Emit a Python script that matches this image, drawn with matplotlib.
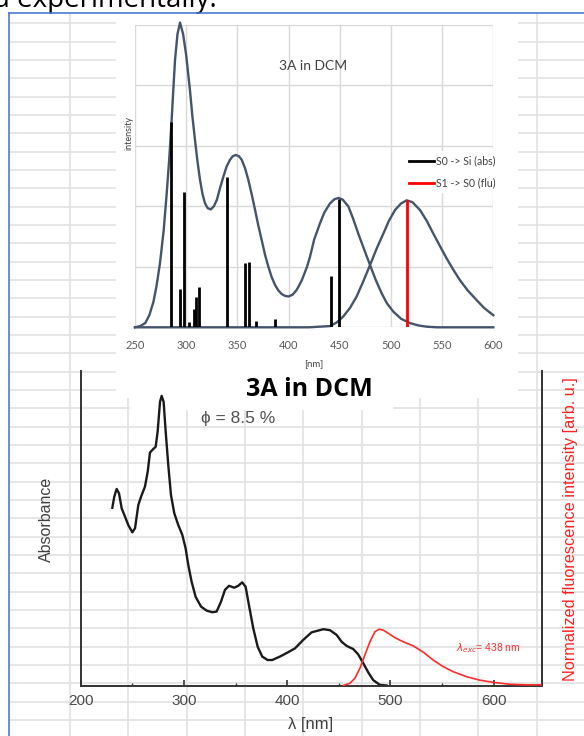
import numpy as np
import matplotlib
matplotlib.use('Agg')
import matplotlib.pyplot as plt
from matplotlib.patches import Rectangle

W, H = 584, 736

# ---- top chart: calculated spectrum (3A in DCM) ----
calc_abs_nm = [250, 255, 260, 264, 268, 271, 274.4, 278, 281, 283.5, 285.8, 287.5, 289.1,
               291.5, 294, 297, 300, 303.7, 306, 308.6, 311, 313.5, 316, 318.4, 321, 324,
               327, 330, 333, 336.3, 339.5, 342.8, 345.5, 348.4, 351.5, 354.3, 357.5, 360.7,
               364, 367.3, 370.5, 373.8, 377, 380.3, 383.5, 386.8, 390, 393.3, 396.5, 400,
               404, 408, 413, 418, 421, 425, 430.7, 435, 440.5, 445, 449, 453, 458.4, 463,
               468.1, 474, 479.6, 485, 491, 496, 502.3, 510, 518.6, 527, 535, 545, 600]
calc_abs_int = [0.0, 0.02, 0.07, 0.2, 0.42, 0.68, 1.06, 1.6, 2.22, 2.8, 3.43, 3.95, 4.42,
                4.85, 5.04, 4.85, 4.5, 3.92, 3.5, 3.1, 2.75, 2.44, 2.2, 2.05, 1.97, 1.95,
                2.0, 2.11, 2.3, 2.49, 2.66, 2.77, 2.83, 2.85, 2.83, 2.77, 2.63, 2.44,
                2.2, 1.94, 1.68, 1.44, 1.2, 1.0, 0.83, 0.7, 0.61, 0.55, 0.52, 0.51,
                0.54, 0.62, 0.78, 1.0, 1.17, 1.45, 1.72, 1.9, 2.05, 2.12, 2.14, 2.11, 2.0, 1.8,
                1.55, 1.28, 1.03, 0.79, 0.56, 0.4, 0.26, 0.14, 0.07, 0.03, 0.01, 0.0, 0.0]
calc_flu_nm = [250, 400, 420, 430, 440.5, 447, 453.5, 460, 466.5, 473, 479.6, 486, 492.6,
               498, 504, 510, 515.4, 521, 528.4, 535, 541.4, 548, 554.4, 561, 567.4, 575,
               583.7, 591, 600]
calc_flu_int = [0.0, 0.0, 0.0, 0.01, 0.02, 0.08, 0.18, 0.32, 0.51, 0.76, 1.03, 1.3, 1.55,
                1.76, 1.94, 2.05, 2.1, 2.07, 1.94, 1.76, 1.55, 1.34, 1.14, 0.95, 0.78, 0.61,
                0.45, 0.32, 0.2]
stick_nm = [285.2, 293.6, 297.5, 303.0, 307.6, 309.3, 312.8, 339.9, 357.5, 361.4, 368.5,
            386.8, 441.2, 449.6]
stick_int = [3.40, 0.63, 2.23, 0.09, 0.30, 0.50, 0.66, 2.49, 1.06, 1.08, 0.11, 0.13, 0.85, 2.13]
flu_stick_nm = [516.0]
flu_stick_int = [2.10]

# ---- bottom chart: measured spectra ----
exp_abs_nm = [230.6, 232.5, 234.8, 237.1, 239.7, 242.9, 246.1, 250.0, 252.6, 255.8, 258.4,
              262.2, 264.9, 267.1, 270.3, 272.6, 274.5, 276.8, 278.4, 280.3, 282.3, 284.8,
              287.4, 290.6, 294.5, 298.4, 301.6, 304.2, 307.4, 311.3, 316.5, 322.0, 327.4,
              331.6, 335.8, 339.7, 343.6, 348.7, 352.6, 356.4, 359.7, 362.9, 367.1, 371.4,
              375.8, 381.0, 385.5, 392.9, 401.0, 407.5, 415.5, 423.6, 434.9, 441.3, 447.8,
              452.7, 457.5, 463.9, 468.7, 473.6, 478.4, 483.3, 489.7, 496.2]
exp_abs = [0.565, 0.600, 0.625, 0.611, 0.563, 0.537, 0.510, 0.487, 0.500, 0.574, 0.600,
           0.632, 0.680, 0.741, 0.752, 0.759, 0.807, 0.902, 0.921, 0.902, 0.807, 0.701,
           0.606, 0.548, 0.510, 0.479, 0.436, 0.383, 0.330, 0.282, 0.251, 0.238, 0.233,
           0.235, 0.266, 0.304, 0.317, 0.311, 0.317, 0.328, 0.314, 0.256, 0.182, 0.123,
           0.092, 0.081, 0.081, 0.092, 0.106, 0.118, 0.145, 0.169, 0.179, 0.176, 0.161,
           0.139, 0.126, 0.116, 0.099, 0.071, 0.042, 0.017, 0.002, 0.0]
exp_flu_nm = [454.2, 460.7, 465.5, 470.4, 475.2, 480.1, 484.9, 489.1, 493.0, 497.8, 504.3,
              512.3, 522.0, 531.7, 541.3, 551.0, 560.7, 573.6, 586.5, 599.4, 615.5, 631.6, 646.8]
exp_flu = [0.0, 0.007, 0.023, 0.055, 0.097, 0.139, 0.171, 0.179, 0.176, 0.166, 0.152,
           0.139, 0.126, 0.106, 0.081, 0.060, 0.044, 0.028, 0.017, 0.010, 0.004, 0.002, 0.002]

fig = plt.figure(figsize=(W / 100, H / 100), dpi=100)


def box(x0, y0, x1, y1):
    # pixel box (top-left origin) -> figure fraction rect
    return [x0 / W, 1 - y1 / H, (x1 - x0) / W, (y1 - y0) / H]


# sheet background with cell grid
bg = fig.add_axes([0, 0, 1, 1], zorder=-10)
bg.set_xlim(0, W)
bg.set_ylim(H, 0)
bg.axis('off')
bg.hlines(np.arange(23.3, H, 18.33), 9, W, color='#e2e2e2', lw=1.2, zorder=1)
bg.vlines(np.arange(70, W, 58.33), 13, H, color='#e2e2e2', lw=1.2, zorder=1)
bg.add_patch(Rectangle((116, 13), 401, 384, color='white', zorder=3))
bg.add_patch(Rectangle((130, 397), 262, 12, color='white', zorder=3))
bg.plot([8.5, 8.5], [13, H], color='#4a7bd0', lw=1.2, zorder=4)
bg.plot([8.5, W], [13, 13], color='#4a7bd0', lw=1.2, zorder=4)
bg.text(-7, 7, 'd experimentally.', fontsize=20, family='Open Sans', va='baseline')

# top chart
ax1 = fig.add_axes(box(135, 25, 493.3, 327.3))
ax1.set_facecolor('none')
ax1.set_xlim(250, 600)
ax1.set_ylim(0, 5)
ax1.set_xticks(range(250, 601, 50))
ax1.set_yticks(range(0, 6))
ax1.grid(color='#d9d9d9', lw=1)
ax1.set_axisbelow(True)
ax1.tick_params(length=0, labelleft=False, labelsize=8, labelcolor='#595959', pad=9)
for lab in ax1.get_xticklabels():
    lab.set_family('Lato')
for s in ax1.spines.values():
    s.set_visible(False)
ax1.plot(calc_abs_nm, calc_abs_int, color='#44546a', lw=1.7, clip_on=False)
ax1.plot(calc_flu_nm, calc_flu_int, color='#44546a', lw=1.7, clip_on=False)
ax1.vlines(stick_nm, 0, stick_int, color='black', lw=2)
ax1.vlines(flu_stick_nm, 0, flu_stick_int, color='red', lw=2)

# overlay for labels in pixel coordinates
ov = fig.add_axes([0, 0, 1, 1], zorder=5)
ov.set_xlim(0, W)
ov.set_ylim(H, 0)
ov.axis('off')
ov.patch.set_alpha(0)

ov.add_patch(Rectangle((405, 151), 104, 41, color='white'))
ov.plot([409, 434], [160.7, 160.7], color='black', lw=2)
ov.plot([409, 434], [183, 183], color='red', lw=2)
ov.text(435.5, 161, 'S0 -> Si (abs)', fontsize=7.6, family='Lato', color='#404040', va='center')
ov.text(435.5, 183, 'S1 -> S0 (flu)', fontsize=7.6, family='Lato', color='#404040', va='center')
ov.text(313, 66, '3A in DCM', fontsize=10, family='Lato', color='#404040', ha='center', va='center')
ov.text(129, 133, 'intensity', fontsize=6.5, family='Lato', color='#404040', rotation=90,
        ha='center', va='center')
ov.text(314, 365, '[nm]', fontsize=7, family='Lato', color='#404040', ha='center', va='center')

# bottom chart
ax2 = fig.add_axes(box(80.7, 371, 542.3, 685.5))
ax2.set_facecolor('none')
ax2.set_xlim(200, 647)
ax2.set_ylim(0, 1)
ax2.set_xticks(range(200, 601, 100))
ax2.set_xticks(range(250, 601, 100), minor=True)
ax2.set_yticks([])
ax2.spines['top'].set_visible(False)
for k in ['left', 'right', 'bottom']:
    ax2.spines[k].set_color('#333333')
    ax2.spines[k].set_linewidth(1.4)
ax2.tick_params(axis='x', which='major', direction='in', length=4, width=1.2, color='#333333',
                labelsize=11, labelcolor='#4a4a4a', pad=6)
ax2.tick_params(axis='x', which='minor', direction='in', length=2, width=1, color='#333333')
for lab in ax2.get_xticklabels():
    lab.set_family('Liberation Sans')
ax2.plot(exp_abs_nm, exp_abs, color='#1a1a1a', lw=1.7)

ax3 = ax2.twinx()
ax3.set_ylim(0, 1)
ax3.set_yticks([])
for s in ax3.spines.values():
    s.set_visible(False)
ax3.plot(exp_flu_nm, exp_flu, color='#ff2a2a', lw=1.2)

ov.text(309, 389, '3A in DCM', fontsize=18, family='Open Sans', weight='bold', color='black',
        ha='center', va='center')
ov.text(238, 418, 'ϕ = 8.5 %', fontsize=12.5, family=['Liberation Sans', 'DejaVu Sans'],
        color='#505050', ha='center', va='center')
ov.text(46, 519, 'Absorbance', fontsize=11.5, family='Liberation Sans',
        color='#404040', rotation=90, ha='center', va='center')
ov.text(570, 529, 'Normalized fluorescence intensity [arb. u.]', fontsize=11.7,
        family='Liberation Sans', color='#ff2020', rotation=90,
        ha='center', va='center')
ov.text(456, 648, r'$\lambda_{exc}$= 438 nm', fontsize=7.5, family='Liberation Sans',
        color='#ee3333', ha='left', va='center')
ov.text(311, 725, 'λ [nm]', fontsize=12, family='Liberation Sans', color='#404040',
        ha='center', va='center')

fig.savefig('out.png', dpi=100)
